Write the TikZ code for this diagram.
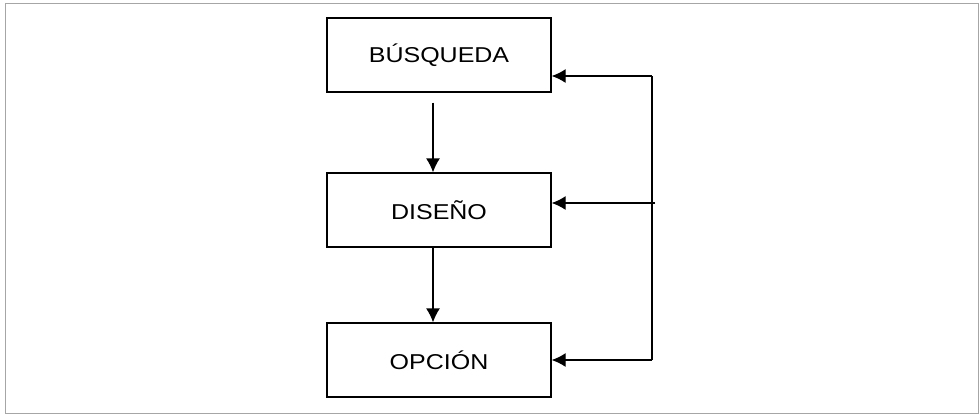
\documentclass[tikz,border=0pt]{standalone}
\usepackage{fontspec}
\setmainfont{Liberation Sans}
\usepackage{tikz}
\usetikzlibrary{
  positioning,
  arrows.meta
}
\newcommand{\rotulo}[1]{\scalebox{1}[0.86]{#1}}
\tikzset{
  >=Latex,
  flecha/.style={-{Latex[length=14pt,width=14pt]},line width=1.3pt},
  etapa/.style={rectangle,draw,line width=1.3pt,minimum width=224pt,minimum height=74pt,
    inner sep=0pt,font=\fontsize{25}{29}\selectfont},
  marco/.style={draw=gray!70,line width=0.9pt}
}

\begin{document}
\begin{tikzpicture}[x=1pt, y=-1pt, node distance=155pt, on grid]
    \useasboundingbox (0,0) rectangle (980,418);
    \draw[marco] (5,3) rectangle (978,413);

    \node[etapa] (busqueda) at (439,55) {\rotulo{BÚSQUEDA}};
    \node[etapa,below=155pt of busqueda] (diseno) {\rotulo{DISEÑO}};
    \node[etapa,below=150pt of diseno] (opcion) {\rotulo{OPCIÓN}};

    % linea de retorno
    \coordinate (arriba) at (652,76);
    \coordinate (medio) at (655,203);
    \coordinate (abajo) at (652,360);

    \draw[flecha,shorten <=10pt] ([xshift=-6pt]busqueda.south) -- ([xshift=-6pt]diseno.north);
    \draw[flecha] ([xshift=-6pt]diseno.south) -- ([xshift=-6pt]opcion.north);
    \draw[line width=1.3pt] (arriba) -- (abajo);
    \draw[flecha] (arriba) -- (arriba -| busqueda.east);
    \draw[flecha] (medio) -- (medio -| diseno.east);
    \draw[flecha] (abajo) -- (opcion.east);
\end{tikzpicture}
\end{document}
